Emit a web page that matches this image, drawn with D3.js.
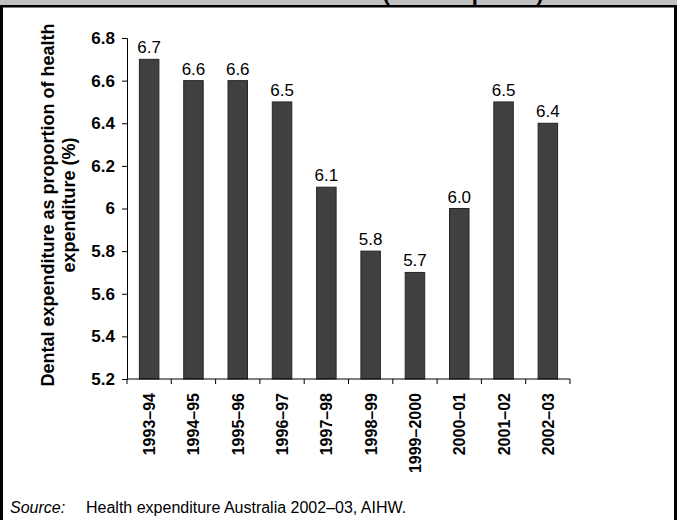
<!DOCTYPE html>
<html>
<head>
<meta charset="utf-8">
<script src="https://cdn.jsdelivr.net/npm/d3@7"></script>
<style>
	body { margin: 0; background: #fff; }
	svg { display: block; font-family: Arial, "Liberation Sans", sans-serif; }
</style>
</head>
<body>
<svg id="chart" width="677" height="520"></svg>
<script>
'use strict';

// Financial years along the bottom
var years = ['1993–94', '1994–95', '1995–96', '1996–97', '1997–98',
	'1998–99', '1999–2000', '2000–01', '2001–02', '2002–03'];

// Dental share of health spending (%)
var dental_share = [6.7, 6.6, 6.6, 6.5, 6.1, 5.8, 5.7, 6.0, 6.5, 6.4];

var y_ticks = [5.2, 5.4, 5.6, 5.8, 6, 6.2, 6.4, 6.6, 6.8];

var svg = d3.select('#chart');

// Frame: grey title band, black rule and side borders
svg.append('rect').attr('x', 0).attr('y', 0).attr('width', 677).attr('height', 6)
	.attr('fill', '#c0c0c0');
svg.append('text')
	.attr('x', 358).attr('y', 0)
	.attr('text-anchor', 'middle')
	.style('font-size', '22px').style('font-weight', 'bold')
	.text('1993–94 to 2002–03 (current prices)');
svg.append('rect').attr('x', 0).attr('y', 5).attr('width', 677).attr('height', 2.5)
	.attr('fill', '#000');
svg.append('rect').attr('x', 0).attr('y', 5).attr('width', 3).attr('height', 515)
	.attr('fill', '#000');
svg.append('rect').attr('x', 674).attr('y', 5).attr('width', 3).attr('height', 515)
	.attr('fill', '#000');

var plot = { left: 127, right: 570, top: 38, bottom: 379 };

var x_scale = d3.scaleBand()
	.domain(years)
	.range([plot.left, plot.right])
	.paddingInner(0.56)
	.paddingOuter(0.28);

var y_scale = d3.scaleLinear()
	.domain([5.2, 6.8])
	.range([plot.bottom, plot.top]);

// Bars
svg.selectAll('rect.bar')
	.data(dental_share)
	.enter().append('rect')
	.attr('class', 'bar')
	.attr('x', function(d, i) { return x_scale(years[i]); })
	.attr('y', function(d) { return y_scale(d); })
	.attr('width', x_scale.bandwidth())
	.attr('height', function(d) { return plot.bottom - y_scale(d); })
	.attr('fill', '#404040')
	.attr('stroke', '#262626')
	.attr('stroke-width', 1);

// Value labels above bars
svg.selectAll('text.val')
	.data(dental_share)
	.enter().append('text')
	.attr('class', 'val')
	.attr('x', function(d, i) { return x_scale(years[i]) + x_scale.bandwidth() / 2; })
	.attr('y', function(d) { return y_scale(d) - 6; })
	.attr('text-anchor', 'middle')
	.style('font-size', '17px')
	.text(function(d) { return d.toFixed(1); });

// Y axis
var y_axis = svg.append('g')
	.attr('transform', 'translate(' + plot.left + ',0)')
	.call(d3.axisLeft(y_scale).tickValues(y_ticks).tickSize(5).tickPadding(7)
		.tickFormat(function(d) { return d === 6 ? '6' : d3.format('.1f')(d); }));
y_axis.select('.domain').attr('stroke', '#000');
y_axis.selectAll('text')
	.style('font-size', '17px').style('font-weight', 'bold').attr('fill', '#000')
	.style('font-family', 'Arial, "Liberation Sans", sans-serif');

// X axis: ticks sit between categories
var x_axis = svg.append('g')
	.attr('transform', 'translate(0,' + plot.bottom + ')');
x_axis.append('line')
	.attr('x1', plot.left).attr('x2', plot.right)
	.attr('stroke', '#000');
var boundaries = d3.range(years.length + 1).map(function(i) { return plot.left + i * (plot.right - plot.left) / years.length; });
x_axis.selectAll('line.tk')
	.data(boundaries)
	.enter().append('line')
	.attr('class', 'tk')
	.attr('x1', function(d) { return d; }).attr('x2', function(d) { return d; })
	.attr('y1', 0).attr('y2', 5)
	.attr('stroke', '#000');

x_axis.selectAll('text.xl')
	.data(years)
	.enter().append('text')
	.attr('class', 'xl')
	.attr('transform', function(d) {
		return 'translate(' + (x_scale(d) + x_scale.bandwidth() / 2 + 6) + ',14) rotate(-90)';
	})
	.attr('text-anchor', 'end')
	.style('font-size', '16px').style('font-weight', 'bold')
	.text(function(d) { return d; });

// Y axis title, two lines
var y_title = svg.append('text')
	.attr('transform', 'translate(0,205) rotate(-90)')
	.attr('text-anchor', 'middle')
	.style('font-size', '18px').style('font-weight', 'bold');
y_title.append('tspan').attr('x', 0).attr('y', 54).text('Dental expenditure as proportion of health');
y_title.append('tspan').attr('x', 0).attr('y', 75).text('expenditure (%)');

// Source note
var source = svg.append('text').attr('y', 513).style('font-size', '16px');
source.append('tspan').attr('x', 10).style('font-style', 'italic').text('Source:');
source.append('tspan').attr('x', 86).text('Health expenditure Australia 2002–03, AIHW.');
</script>
</body>
</html>
